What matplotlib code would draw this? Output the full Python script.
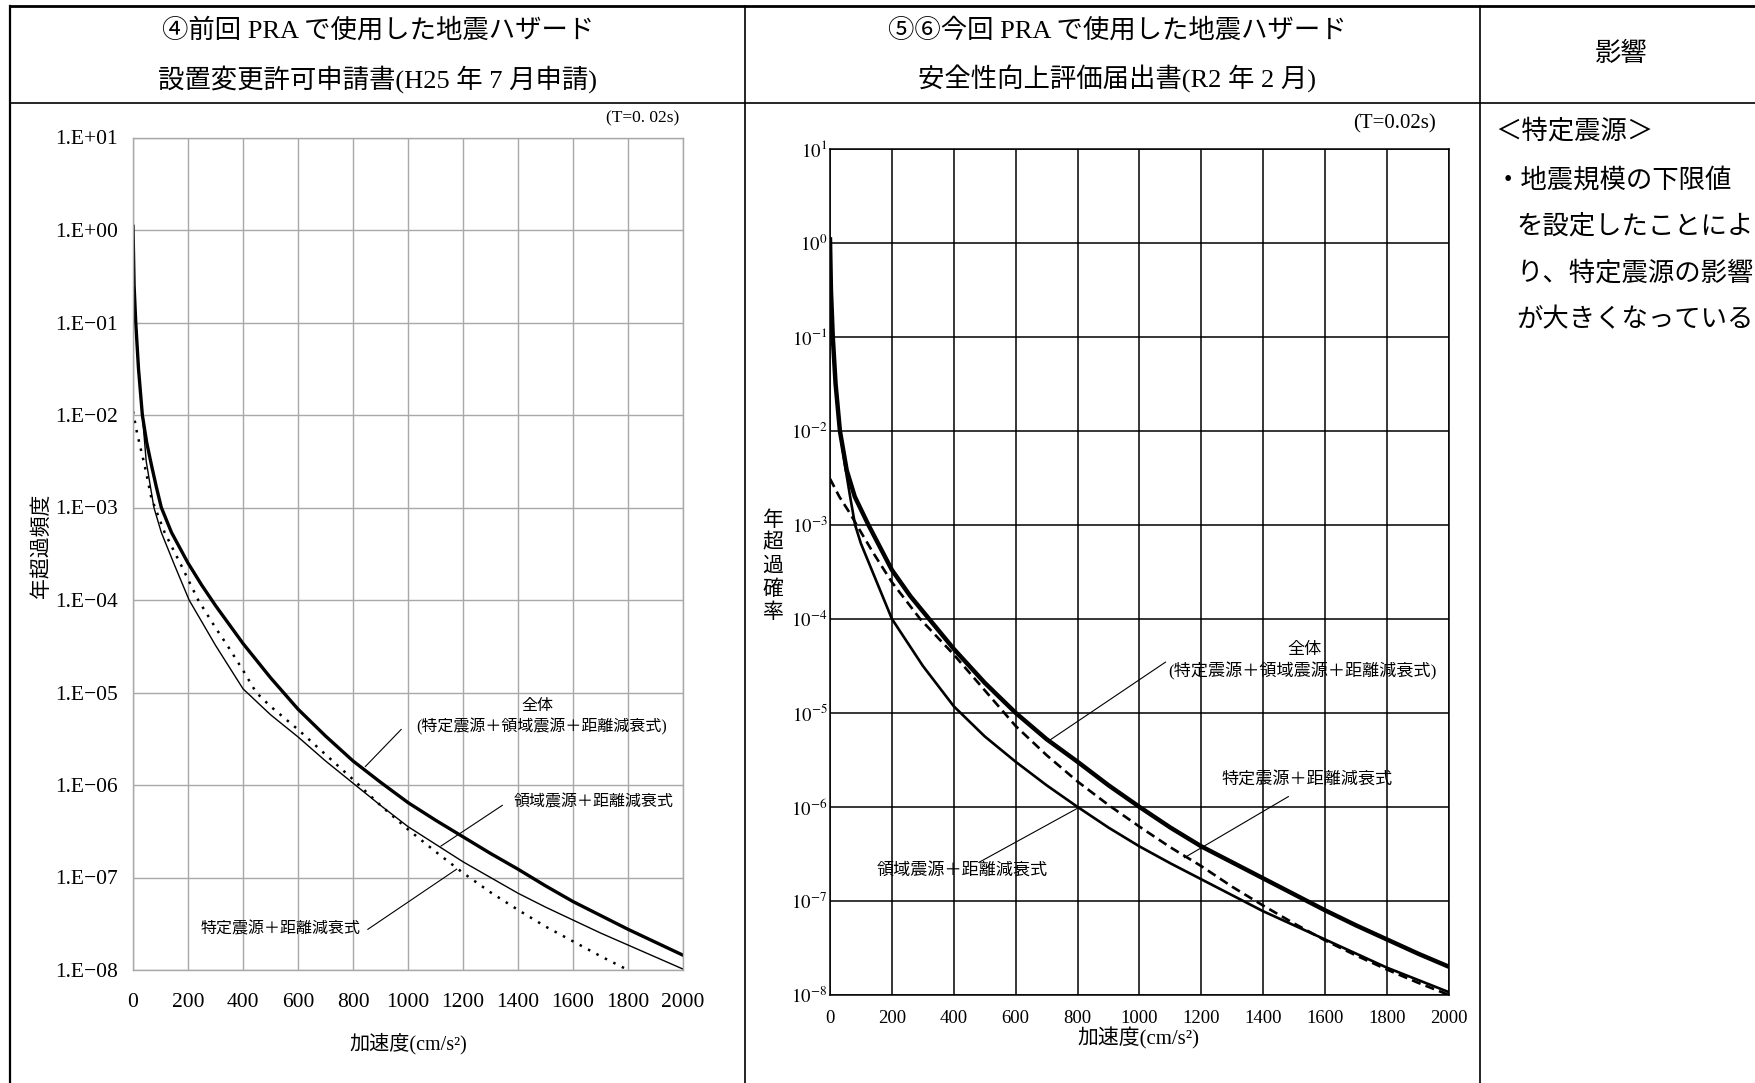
import matplotlib
matplotlib.use("Agg")
import matplotlib.pyplot as plt
import numpy as np
from matplotlib.ticker import FixedLocator, FuncFormatter, NullLocator

plt.rcParams['font.family'] = ['Liberation Serif', 'Noto Sans CJK JP']
plt.rcParams['mathtext.fontset'] = 'stix'

# ---- left chart (previous PRA), exceedance frequency as log10 ----
prev_total_acc = [0, 4, 10, 20, 34, 50, 67, 85, 103, 140, 200, 250, 300, 400, 500, 600, 700, 800,
                  900, 1000, 1100, 1200, 1300, 1400, 1500, 1600, 1700, 1800, 1900, 2000]
prev_total_log = [0.04, -0.6, -1.0, -1.5, -2.0, -2.3, -2.54, -2.78, -3.0, -3.27, -3.6, -3.84, -4.06,
                  -4.47, -4.84, -5.18, -5.47, -5.74, -5.97, -6.19, -6.38, -6.56, -6.74, -6.91, -7.09,
                  -7.26, -7.41, -7.56, -7.70, -7.84]
prev_area_acc = [0, 4, 10, 20, 34, 48, 62, 76, 103, 152, 204, 300, 400, 500, 600, 700, 800, 900,
                 1000, 1100, 1200, 1300, 1400, 1500, 1600, 1700, 1800, 1900, 2000]
prev_area_log = [0.0, -0.6, -1.0, -1.5, -2.0, -2.5, -2.75, -3.0, -3.27, -3.63, -4.0, -4.49, -4.96,
                 -5.24, -5.48, -5.74, -5.98, -6.22, -6.45, -6.64, -6.83, -7.0, -7.17, -7.32, -7.46,
                 -7.6, -7.73, -7.86, -7.99]
prev_fault_acc = [0, 15, 42, 67, 115, 176, 237, 300, 345, 400, 448, 500, 600, 700, 800, 900, 1000,
                  1100, 1200, 1300, 1400, 1500, 1600, 1700, 1800]
prev_fault_log = [-1.96, -2.2, -2.54, -2.9, -3.27, -3.63, -4.0, -4.3, -4.5, -4.76, -5.0, -5.15, -5.40,
                  -5.67, -5.94, -6.22, -6.48, -6.72, -6.95, -7.16, -7.35, -7.53, -7.69, -7.85, -8.0]

# ---- right chart (current PRA), exceedance probability as log10 ----
cur_total_acc = [0, 3, 9, 18, 32, 54, 80, 124, 200, 260, 320, 400, 500, 600, 700, 800, 900, 1000,
                 1100, 1200, 1300, 1400, 1500, 1600, 1700, 1800, 1900, 2000]
cur_total_log = [0.035, -0.5, -1.0, -1.5, -2.0, -2.42, -2.7, -3.0, -3.48, -3.76, -4.0, -4.32, -4.68,
                 -5.0, -5.28, -5.52, -5.77, -6.0, -6.22, -6.42, -6.59, -6.76, -6.93, -7.1, -7.26,
                 -7.41, -7.56, -7.70]
cur_fault_acc = [0, 30, 65, 86, 140, 200, 291, 400, 500, 600, 700, 800, 900, 1000, 1100, 1200, 1300,
                 1400, 1500, 1600, 1700, 1800, 1900, 2000]
cur_fault_log = [-2.51, -2.7, -2.88, -3.0, -3.3, -3.61, -4.0, -4.38, -4.76, -5.14, -5.45, -5.73, -5.98,
                 -6.21, -6.43, -6.63, -6.85, -7.05, -7.24, -7.42, -7.58, -7.73, -7.87, -8.0]
cur_area_acc = [0, 3, 9, 18, 32, 50, 65, 81, 100, 150, 200, 300, 400, 500, 600, 700, 800, 900, 1000,
                1100, 1200, 1300, 1400, 1500, 1600, 1700, 1800, 1900, 2000]
cur_area_log = [0.0, -0.5, -1.0, -1.5, -2.0, -2.4, -2.7, -3.0, -3.2, -3.6, -4.0, -4.5, -4.93, -5.25,
                -5.52, -5.77, -6.0, -6.22, -6.42, -6.6, -6.77, -6.94, -7.11, -7.26, -7.41, -7.56,
                -7.71, -7.84, -7.97]

x_ticks = list(range(0, 2001, 200))
decades = list(range(-8, 2))

W, H = 1756, 1083
fig = plt.figure(figsize=(W / 100, H / 100), dpi=100)

# background axes in pixel coordinates for the table frame and texts
bg = fig.add_axes([0, 0, 1, 1])
bg.set_xlim(0, W)
bg.set_ylim(H, 0)
bg.axis('off')
bg.plot([10, W], [6, 6], color='black', lw=2.0)
bg.plot([10, 10], [6, H], color='black', lw=1.6)
bg.plot([10, W], [103, 103], color='black', lw=1.2)
for xd in (745, 1480):
    bg.plot([xd, xd], [6, H], color='black', lw=1.2)

bg.text(378, 30, '④前回 PRA で使用した地震ハザード', fontsize=19, ha='center', va='center')
bg.text(378, 79, '設置変更許可申請書(H25 年 7 月申請)', fontsize=19, ha='center', va='center')
bg.text(1117, 30, '⑤⑥今回 PRA で使用した地震ハザード', fontsize=19, ha='center', va='center')
bg.text(1117, 79, '安全性向上評価届出書(R2 年 2 月)', fontsize=19, ha='center', va='center')
bg.text(1621, 54, '影響', fontsize=19, ha='center', va='center')

bg.text(1495, 131, '＜特定震源＞', fontsize=19, ha='left', va='center')
bg.text(1495, 180, '・地震規模の下限値', fontsize=19, ha='left', va='center')
bg.text(1516, 226, 'を設定したことによ', fontsize=19, ha='left', va='center')
bg.text(1516, 273, 'り、特定震源の影響', fontsize=19, ha='left', va='center')
bg.text(1516, 320, 'が大きくなっている', fontsize=19, ha='left', va='center')

bg.text(679, 118, '(T=0. 02s)', fontsize=12.5, ha='right', va='center')
bg.text(1436, 124, '(T=0.02s)', fontsize=15, ha='right', va='center')

# ---- left chart ----
axL = fig.add_axes([133 / W, 1 - 970 / H, 550 / W, 832.5 / H])
axL.set_yscale('log')
axL.plot(prev_total_acc, 10.0 ** np.array(prev_total_log), color='black', lw=2.4)
axL.plot(prev_area_acc, 10.0 ** np.array(prev_area_log), color='black', lw=1.0)
axL.plot(prev_fault_acc, 10.0 ** np.array(prev_fault_log), color='black', lw=1.8,
         linestyle=(0, (1, 2.8)))
axL.set_xlim(0, 2000)
axL.set_ylim(1e-8, 1e1)
axL.set_xticks(x_ticks)
axL.yaxis.set_major_locator(FixedLocator([10.0 ** d for d in decades]))
axL.yaxis.set_minor_locator(NullLocator())
axL.yaxis.set_major_formatter(FuncFormatter(
    lambda v, p: ('1.E%+03d' % round(np.log10(v))).replace('-', '−')))
axL.grid(True, color='#a8a8a8', lw=1.0)
for s in axL.spines.values():
    s.set_color('#a8a8a8')
    s.set_linewidth(1.0)
axL.tick_params(axis='both', length=0, labelsize=15.5)
axL.tick_params(axis='y', pad=11)
axL.tick_params(axis='x', pad=16.5)
axL.set_xlabel('加速度(cm/s²)', fontsize=14.5, va='center')
axL.xaxis.set_label_coords(0.5, -0.088)
axL.set_ylabel('年超過頻度', fontsize=15, va='center')
axL.yaxis.set_label_coords(-0.165, 0.51)

lab = dict(fontsize=11.5, ha='center', va='center')
axL.text(1472, 10 ** -5.15, '全体', **lab)
axL.text(1485, 10 ** -5.37, '(特定震源＋領域震源＋距離減衰式)', **lab)
axL.plot([975, 845], [10 ** -5.40, 10 ** -5.80], color='black', lw=0.8)
axL.text(1675, 10 ** -6.19, '領域震源＋距離減衰式', **lab)
axL.plot([1343, 1120], [10 ** -6.22, 10 ** -6.66], color='black', lw=0.8)
axL.text(537, 10 ** -7.56, '特定震源＋距離減衰式', **lab)
axL.plot([854, 1177], [10 ** -7.56, 10 ** -6.91], color='black', lw=0.8)

# ---- right chart ----
axR = fig.add_axes([830 / W, 1 - 995 / H, 619 / W, 846.3 / H])
axR.set_yscale('log')
axR.plot(cur_total_acc, 10.0 ** np.array(cur_total_log), color='black', lw=3.2)
axR.plot(cur_area_acc, 10.0 ** np.array(cur_area_log), color='black', lw=1.9)
axR.plot(cur_fault_acc, 10.0 ** np.array(cur_fault_log), color='black', lw=1.9,
         linestyle=(0, (3.5, 2)))
axR.set_xlim(0, 2000)
axR.set_ylim(1e-8, 1e1)
axR.set_xticks(x_ticks)
axR.yaxis.set_major_locator(FixedLocator([10.0 ** d for d in decades]))
axR.yaxis.set_minor_locator(NullLocator())
axR.yaxis.set_major_formatter(FuncFormatter(
    lambda v, p: r'$10^{%d}$' % round(np.log10(v))))
axR.grid(True, color='black', lw=1.1)
for s in axR.spines.values():
    s.set_color('black')
    s.set_linewidth(1.1)
axR.tick_params(axis='both', length=0, labelsize=13.5)
axR.tick_params(axis='y', pad=2)
axR.tick_params(axis='x', pad=11)
axR.set_xlabel('加速度(cm/s²)', fontsize=15, va='center')
axR.xaxis.set_label_coords(0.499, -0.051)
# vertical label written one upright character per line
ylab_chars = '年超過確率'
step = 23 / 846.3
for i, ch in enumerate(ylab_chars):
    axR.text(-0.092, 0.506 + (2 - i) * step, ch, transform=axR.transAxes, fontsize=15,
             ha='center', va='center', rotation=0)

lab = dict(fontsize=12.3, ha='center', va='center')
axR.text(1532, 10 ** -4.33, '全体', **lab)
axR.text(1527, 10 ** -4.56, '(特定震源＋領域震源＋距離減衰式)', **lab)
axR.plot([1084, 710], [10 ** -4.46, 10 ** -5.29], color='black', lw=0.8)
axR.text(1542, 10 ** -5.71, '特定震源＋距離減衰式', **lab)
axR.plot([1481, 1145], [10 ** -5.89, 10 ** -6.54], color='black', lw=0.8)
axR.text(428, 10 ** -6.68, '領域震源＋距離減衰式', **lab)
axR.plot([481, 802], [10 ** -6.59, 10 ** -6.01], color='black', lw=0.8)

fig.savefig('out.png', dpi=100)
